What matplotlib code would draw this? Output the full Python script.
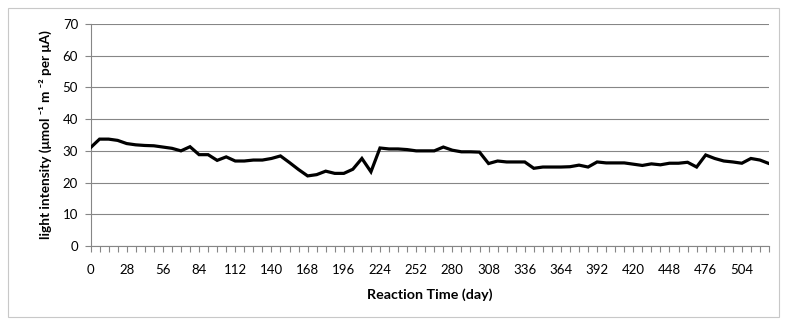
import matplotlib
matplotlib.use("Agg")
import matplotlib.pyplot as plt
from matplotlib.patches import Rectangle

days = list(range(0, 526, 7))
intensity = [31.0, 33.7, 33.7, 33.3, 32.3, 31.9, 31.7, 31.6, 31.2, 30.8,
             30.0, 31.3, 28.8, 28.8, 27.0, 28.1, 26.8, 26.8, 27.1, 27.1,
             27.6, 28.4, 26.3, 24.1, 22.1, 22.5, 23.6, 22.9, 22.9, 24.2,
             27.6, 23.4, 30.9, 30.6, 30.6, 30.4, 30.0, 30.0, 30.0, 31.2,
             30.2, 29.7, 29.7, 29.6, 26.0, 26.8, 26.5, 26.5, 26.5, 24.5,
             24.9, 24.9, 24.9, 25.0, 25.5, 24.9, 26.5, 26.2, 26.2, 26.2,
             25.8, 25.4, 25.9, 25.6, 26.1, 26.1, 26.4, 24.9, 28.7, 27.6,
             26.8, 26.5, 26.1, 27.6, 27.1, 26.0]
yticks = list(range(0, 71, 10))
label_every = 4

plt.rcParams['font.family'] = ['Lato', 'DejaVu Sans']

W, H = 787, 323
fig = plt.figure(figsize=(W / 100, H / 100), dpi=100)
fig.patches.append(Rectangle((8 / W, 1 - 317 / H), 771 / W, 309 / H,
                             transform=fig.transFigure, fill=False,
                             edgecolor='#c8c8c8', linewidth=0.8))

left, right, top, bottom = 90.5, 769, 24, 246
ax = fig.add_axes([left / W, 1 - bottom / H, (right - left) / W, (bottom - top) / H])

x = list(range(len(days)))
ax.plot(x, intensity, color='black', linewidth=2.3, solid_joinstyle='miter', zorder=3)

ax.set_xlim(0, len(days) - 1)
ax.set_ylim(0, 70)
ax.set_yticks(yticks)
ax.set_yticklabels([str(v) for v in yticks], fontsize=9.5)
ax.set_xticks(x)
ax.set_xticklabels([str(d) if i % label_every == 0 else '' for i, d in enumerate(days)], fontsize=9.5)
ax.tick_params(axis='x', length=4, width=0.8, color='#868686', pad=9)
ax.tick_params(axis='y', length=4, width=0.8, color='#868686', pad=5)

ax.grid(axis='y', color='#868686', linewidth=0.8)
ax.set_axisbelow(True)
for s in ['top', 'right']:
    ax.spines[s].set_visible(False)
for s in ['left', 'bottom']:
    ax.spines[s].set_color('#868686')
    ax.spines[s].set_linewidth(0.8)

ax.set_xlabel('Reaction Time (day)', fontsize=10.3, fontweight='bold', labelpad=9)
ax.set_ylabel('light intensity (μmol ⁻¹ m ⁻² per μA)', fontsize=9.8,
              fontweight='bold', labelpad=8)

fig.savefig('out.png', dpi=100)
